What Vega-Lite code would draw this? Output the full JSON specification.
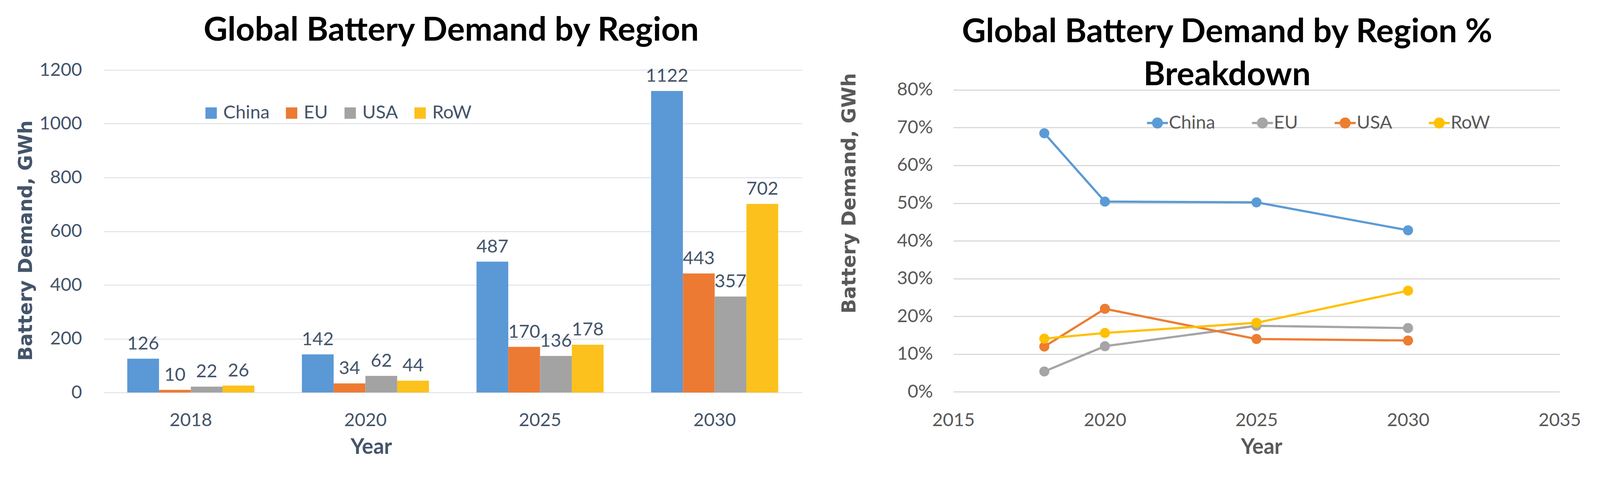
{
  "$schema": "https://vega.github.io/schema/vega-lite/v6.json",
  "background": "white",
  "autosize": {"type": "none"},
  "padding": {"left": 265, "top": 179, "right": 4067, "bottom": 1100},
  "spacing": 97.6,
  "config": {"view": {"stroke": null}, "font": "Lato"},
  "resolve": {"scale": {"color": "independent"}, "legend": {"color": "independent"}},
  "hconcat": [
    {
      "width": 1788,
      "height": 825,
      "title": {"text": "Global Battery Demand by Region", "font": "Lato", "fontSize": 84.6, "fontWeight": "bold", "color": "#000000", "frame": "group", "anchor": "middle", "offset": 33.8, "dx": -3.8},
      "data": {"values": [
        {"year": "2018", "region": "China", "demand": 126},
        {"year": "2018", "region": "EU", "demand": 10},
        {"year": "2018", "region": "USA", "demand": 22},
        {"year": "2018", "region": "RoW", "demand": 26},
        {"year": "2020", "region": "China", "demand": 142},
        {"year": "2020", "region": "EU", "demand": 34},
        {"year": "2020", "region": "USA", "demand": 62},
        {"year": "2020", "region": "RoW", "demand": 44},
        {"year": "2025", "region": "China", "demand": 487},
        {"year": "2025", "region": "EU", "demand": 170},
        {"year": "2025", "region": "USA", "demand": 136},
        {"year": "2025", "region": "RoW", "demand": 178},
        {"year": "2030", "region": "China", "demand": 1122},
        {"year": "2030", "region": "EU", "demand": 443},
        {"year": "2030", "region": "USA", "demand": 357},
        {"year": "2030", "region": "RoW", "demand": 702}
      ]},
      "encoding": {
        "x": {"field": "year", "type": "nominal", "sort": ["2018", "2020", "2025", "2030"],
          "scale": {"paddingInner": 0.2723, "paddingOuter": 0.136},
          "axis": {"labelAngle": 0, "domain": false, "ticks": false, "grid": false, "labelPadding": 48.9,
            "labelFont": "Lato", "labelFontSize": 47, "labelColor": "#44546A",
            "title": "Year", "titleFont": "Lato", "titleFontSize": 54.5, "titleFontWeight": "bold", "titleColor": "#44546A",
            "titleX": 685, "titlePadding": 18.8}},
        "xOffset": {"field": "region", "type": "nominal", "sort": ["China", "EU", "USA", "RoW"], "scale": {"paddingInner": 0, "paddingOuter": 0}},
        "y": {"field": "demand", "type": "quantitative", "scale": {"domain": [0, 1200], "nice": false},
          "axis": {"values": [0, 200, 400, 600, 800, 1000, 1200], "format": "d", "domain": false, "ticks": false, "grid": true,
            "gridColor": "#E4E7EC", "gridWidth": 2.8, "labelPadding": 55.5, "labelFont": "Lato", "labelFontSize": 47,
            "labelColor": "#44546A", "labelOverlap": false,
            "title": "Battery Demand, GWh", "titleFont": "DejaVu Sans", "titleFontSize": 48.9, "titleFontWeight": "bold",
            "titleColor": "#44546A", "titleY": 436, "titlePadding": 9.4}}
      },
      "layer": [
        {
          "mark": {"type": "bar"},
          "encoding": {
            "color": {"field": "region", "type": "nominal",
              "scale": {"domain": ["China", "EU", "USA", "RoW"], "range": ["#5B98D6", "#EC7A33", "#A3A3A3", "#FCC11C"]},
              "legend": {"orient": "none", "legendX": 252, "legendY": 86.5, "direction": "horizontal", "title": null,
                "symbolType": "square", "symbolSize": 849, "symbolStrokeWidth": 0, "symbolOpacity": 1, "labelFont": "Lato", "labelFontSize": 47,
                "labelColor": "#44546A", "labelOffset": 7.5, "columnPadding": 33, "padding": 0}}
          }
        },
        {
          "mark": {"type": "text", "baseline": "alphabetic", "dy": -23.5, "font": "Lato", "fontSize": 47, "color": "#44546A"},
          "encoding": {"text": {"field": "demand", "type": "quantitative"}}
        }
      ]
    },
    {
      "width": 1552,
      "height": 825,
      "title": {"text": ["Global Battery Demand by Region %", "Breakdown"], "font": "Lato", "fontSize": 84.6, "fontWeight": "bold", "color": "#000000", "lineHeight": 110, "frame": "group", "anchor": "middle", "offset": -56.4, "dx": -75.2},
      "data": {"values": [
        {"year": 2018, "region": "China", "share": 0.685},
        {"year": 2020, "region": "China", "share": 0.504},
        {"year": 2025, "region": "China", "share": 0.502},
        {"year": 2030, "region": "China", "share": 0.428},
        {"year": 2018, "region": "EU", "share": 0.054},
        {"year": 2020, "region": "EU", "share": 0.121},
        {"year": 2025, "region": "EU", "share": 0.175},
        {"year": 2030, "region": "EU", "share": 0.169},
        {"year": 2018, "region": "USA", "share": 0.120},
        {"year": 2020, "region": "USA", "share": 0.220},
        {"year": 2025, "region": "USA", "share": 0.140},
        {"year": 2030, "region": "USA", "share": 0.136},
        {"year": 2018, "region": "RoW", "share": 0.141},
        {"year": 2020, "region": "RoW", "share": 0.156},
        {"year": 2025, "region": "RoW", "share": 0.183},
        {"year": 2030, "region": "RoW", "share": 0.268}
      ]},
      "encoding": {
        "x": {"field": "year", "type": "quantitative", "scale": {"domain": [2015, 2035], "nice": false, "zero": false},
          "axis": {"values": [2015, 2020, 2025, 2030, 2035], "format": "d", "domain": false, "ticks": false, "grid": false,
            "labelPadding": 48.2, "labelFont": "Lato", "labelFontSize": 47,
            "labelColor": "#595959", "labelFlush": false, "labelOverlap": false, "labelBound": false,
            "title": "Year", "titleFont": "Lato", "titleFontSize": 54.5, "titleFontWeight": "bold", "titleColor": "#595959",
            "titleX": 788.7, "titlePadding": 18.8}},
        "y": {"field": "share", "type": "quantitative", "scale": {"domain": [0, 0.8], "nice": false, "range": [823.4, 50.8]},
          "axis": {"values": [0, 0.1, 0.2, 0.3, 0.4, 0.5, 0.6, 0.7, 0.8], "format": ".0%", "domain": false, "ticks": false, "grid": true,
            "gridColor": "#D9D9D9", "gridWidth": 2.8, "labelPadding": 52.6, "labelFont": "Lato", "labelFontSize": 47,
            "labelColor": "#595959", "labelOverlap": false, "labelFlush": false,
            "title": "Battery Demand, GWh", "titleFont": "DejaVu Sans", "titleFontSize": 48.9, "titleFontWeight": "bold",
            "titleColor": "#595959", "titleY": 315, "titlePadding": 95.9}}
      },
      "layer": [
        {
          "data": {"values": [{"year": 2015}, {"year": 2020}, {"year": 2025}, {"year": 2030}, {"year": 2035}]},
          "mark": {"type": "rule", "color": "#D9D9D9", "strokeWidth": 2.8},
          "encoding": {"y": {"datum": 0}, "y2": {"datum": 0.8}}
        },
        {
          "mark": {"type": "line", "strokeWidth": 5.6},
          "encoding": {"stroke": {"field": "region", "type": "nominal", "legend": null,
            "scale": {"domain": ["China", "EU", "USA", "RoW"], "range": ["#5B9BD5", "#A5A5A5", "#ED7D31", "#FFC000"]}}}
        },
        {
          "mark": {"type": "point", "filled": true, "size": 663, "opacity": 1},
          "encoding": {"color": {"field": "region", "type": "nominal",
            "scale": {"domain": ["China", "EU", "USA", "RoW"], "range": ["#5B9BD5", "#A5A5A5", "#ED7D31", "#FFC000"]},
            "legend": {"orient": "none", "legendX": 499, "legendY": 111.9, "direction": "horizontal", "title": null,
              "symbolType": "M-1.9,-0.2L-0.98,-0.2A1,1 0 0,1 0.98,-0.2L1.9,-0.2L1.9,0.2L0.98,0.2A1,1 0 0,1 -0.98,0.2L-1.9,0.2Z",
              "symbolSize": 795, "symbolStrokeWidth": 0, "symbolOpacity": 1, "labelFont": "Lato", "labelFontSize": 47,
              "labelColor": "#595959", "labelOffset": 5.7, "columnPadding": 92.8, "padding": 0}}}
        }
      ]
    }
  ]
}
